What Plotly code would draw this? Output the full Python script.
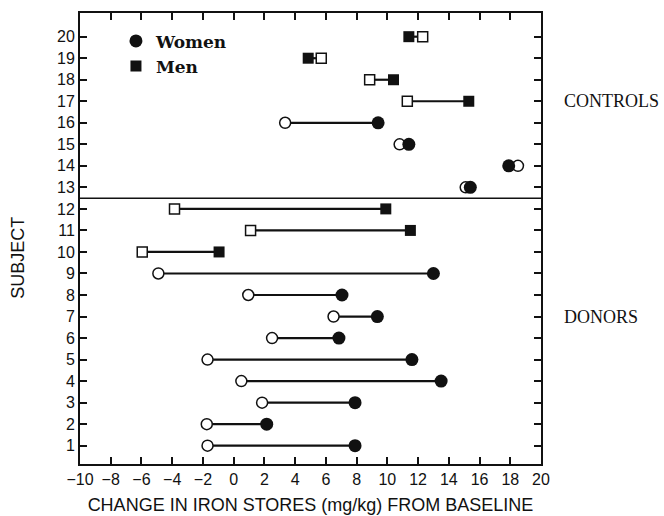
import plotly.graph_objects as go

# ---- data ----
subjects = list(range(1, 21))
sex = ["F"] * 9 + ["M"] * 3 + ["F"] * 4 + ["M"] * 4
open_vals = [-1.7, -1.75, 1.85, 0.5, -1.7, 2.5, 6.5, 0.95, -4.9, -5.95,
             1.1, -3.85, 15.1, 18.5, 10.8, 3.35, 11.3, 8.85, 5.7, 12.3]
filled_vals = [7.9, 2.15, 7.9, 13.5, 11.6, 6.85, 9.35, 7.05, 13.0, -0.95,
               11.5, 9.9, 15.4, 17.9, 11.4, 9.4, 15.3, 10.4, 4.85, 11.4]
donor_subjects = list(range(1, 13))
control_subjects = list(range(13, 21))
group_labels = ["CONTROLS", "DONORS"]
group_label_rows = [17, 7]
x_ticks = list(range(-10, 21, 2))
y_ticks = subjects

INK = "#111111"

fig = go.Figure()

# connecting lines
lx, ly = [], []
for s, a, b in zip(subjects, open_vals, filled_vals):
    lx += [a, b, None]
    ly += [s, s, None]
fig.add_trace(go.Scatter(x=lx, y=ly, mode="lines", line=dict(color=INK, width=2.2),
                         showlegend=False, hoverinfo="skip"))

def sel(vals, who):
    return [v for v, g in zip(vals, sex) if g == who]

# open markers
fig.add_trace(go.Scatter(x=sel(open_vals, "F"), y=sel(subjects, "F"), mode="markers",
                         marker=dict(symbol="circle", size=11, color="white",
                                     line=dict(color=INK, width=1.5)),
                         showlegend=False))
fig.add_trace(go.Scatter(x=sel(open_vals, "M"), y=sel(subjects, "M"), mode="markers",
                         marker=dict(symbol="square", size=10, color="white",
                                     line=dict(color=INK, width=1.5)),
                         showlegend=False))
# filled markers
fig.add_trace(go.Scatter(x=sel(filled_vals, "F"), y=sel(subjects, "F"), mode="markers",
                         name="Women", legendgroup="w",
                         marker=dict(symbol="circle", size=13, color=INK,
                                     line=dict(color=INK, width=0))))
fig.add_trace(go.Scatter(x=sel(filled_vals, "M"), y=sel(subjects, "M"), mode="markers",
                         name="Men", legendgroup="m",
                         marker=dict(symbol="square", size=11, color=INK,
                                     line=dict(color=INK, width=0))))

# separator between donors and controls
sep = (max(donor_subjects) + min(control_subjects)) / 2
fig.add_shape(type="line", xref="paper", x0=0, x1=1, yref="y", y0=sep, y1=sep,
              line=dict(color=INK, width=1.5))

for lab, row in zip(group_labels, group_label_rows):
    fig.add_annotation(text=lab, xref="paper", x=1.045, xanchor="left",
                       yref="y", y=row, yanchor="middle", showarrow=False,
                       font=dict(family="Liberation Serif", size=18, color=INK))

# y-axis title as annotation (placed slightly below plot centre, like the reference)
fig.add_annotation(text="SUBJECT", xref="paper", x=-0.135, xanchor="center",
                   yref="paper", y=0.457, yanchor="middle", textangle=-90,
                   showarrow=False,
                   font=dict(family="Liberation Sans", size=18, color=INK))

axis_common = dict(showline=True, linewidth=2, linecolor=INK, mirror="ticks",
                   ticks="inside", ticklen=7, tickwidth=1.5, tickcolor=INK,
                   showgrid=False, zeroline=False,
                   tickfont=dict(family="Liberation Sans", size=16, color=INK))

fig.update_xaxes(range=[-10, 20], tickvals=x_ticks, **axis_common,
                 title=dict(text="CHANGE IN IRON STORES (mg/kg) FROM BASELINE",
                            font=dict(family="Liberation Sans", size=18, color=INK),
                            standoff=11))
fig.update_yaxes(range=[0.15, 21.1], tickvals=y_ticks, **axis_common)

fig.update_layout(
    width=664, height=516,
    margin=dict(l=80, r=123, t=13, b=52, autoexpand=False),
    paper_bgcolor="white", plot_bgcolor="white",
    legend=dict(x=0.078, y=0.977, xanchor="left", yanchor="top",
                bgcolor="rgba(0,0,0,0)", tracegroupgap=0,
                font=dict(family="DejaVu Serif", size=17, color=INK, weight="bold")),
    showlegend=True,
)

fig.write_html("out.html")
